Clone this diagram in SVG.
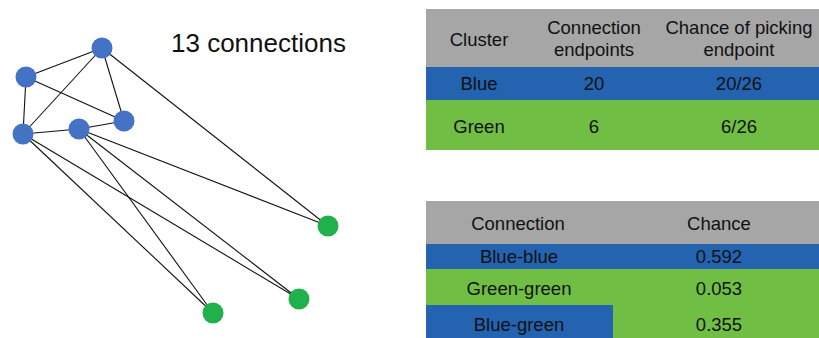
<svg xmlns="http://www.w3.org/2000/svg" width="819" height="338" viewBox="0 0 819 338">
<style>
.e{stroke:#111;stroke-width:1.1;fill:none}
.b{fill:#4472c4}
.g{fill:#21b14c}
.t{font-family:"Liberation Sans",Arial,sans-serif;font-size:18.5px;fill:#111;text-anchor:middle}
.hd{fill:#a6a6a6}
.rb{fill:#2463b0}
.rg{fill:#70bf44}
</style>
<rect width="819" height="338" fill="#fff"/>
<g id="connectors">
<line class="e" x1="102" y1="48" x2="26" y2="77"/>
<line class="e" x1="102" y1="48" x2="23" y2="134"/>
<line class="e" x1="102" y1="48" x2="124" y2="121"/>
<line class="e" x1="102" y1="48" x2="328" y2="226"/>
<line class="e" x1="26" y1="77" x2="23" y2="134"/>
<line class="e" x1="26" y1="77" x2="124" y2="121"/>
<line class="e" x1="23" y1="134" x2="79" y2="129"/>
<line class="e" x1="79" y1="129" x2="124" y2="121"/>
<line class="e" x1="79" y1="129" x2="328" y2="226"/>
<line class="e" x1="79" y1="129" x2="299" y2="299"/>
<line class="e" x1="79" y1="129" x2="213" y2="313"/>
<line class="e" x1="23" y1="134" x2="213" y2="313"/>
<line class="e" x1="23" y1="134" x2="299" y2="299"/>
</g>
<g id="n1"><circle class="b" cx="102" cy="48" r="10.5"/></g>
<g id="n2"><circle class="b" cx="26" cy="77" r="10.5"/></g>
<g id="n3"><circle class="b" cx="23" cy="134" r="10.5"/></g>
<g id="n4"><circle class="b" cx="79" cy="129" r="10.5"/></g>
<g id="n5"><circle class="b" cx="124" cy="121" r="10.5"/></g>
<g id="n6"><circle class="g" cx="328" cy="226" r="10.5"/></g>
<g id="n7"><circle class="g" cx="299" cy="299" r="10.5"/></g>
<g id="n8"><circle class="g" cx="213" cy="313" r="10.5"/></g>
<text x="171" y="52" font-family="Liberation Sans,Arial,sans-serif" font-size="26" fill="#111">13 connections</text>
<g id="table1">
<rect class="hd" x="426" y="9" width="393" height="58"/>
<rect class="rb" x="426" y="67" width="393" height="33"/>
<rect class="rg" x="426" y="100" width="393" height="50"/>
<text class="t" x="479" y="46">Cluster</text>
<text class="t" x="594" y="34">Connection</text>
<text class="t" x="594" y="56">endpoints</text>
<text class="t" x="739" y="34">Chance of picking</text>
<text class="t" x="739" y="56">endpoint</text>
<text class="t" x="479" y="90">Blue</text>
<text class="t" x="594" y="90">20</text>
<text class="t" x="739" y="90">20/26</text>
<text class="t" x="479" y="133">Green</text>
<text class="t" x="594" y="133">6</text>
<text class="t" x="739" y="133">6/26</text>
</g>
<g id="table2">
<rect class="hd" x="426" y="201" width="393" height="43"/>
<rect class="rb" x="426" y="244" width="393" height="25"/>
<rect class="rg" x="426" y="269" width="393" height="36"/>
<rect class="rb" x="426" y="305" width="187" height="33"/>
<rect class="rg" x="613" y="305" width="206" height="33"/>
<text class="t" x="518" y="230">Connection</text>
<text class="t" x="719" y="230">Chance</text>
<text class="t" x="519" y="263">Blue-blue</text>
<text class="t" x="719" y="263">0.592</text>
<text class="t" x="519" y="295">Green-green</text>
<text class="t" x="719" y="295">0.053</text>
<text class="t" x="519" y="331">Blue-green</text>
<text class="t" x="719" y="331">0.355</text>
</g>
</svg>
